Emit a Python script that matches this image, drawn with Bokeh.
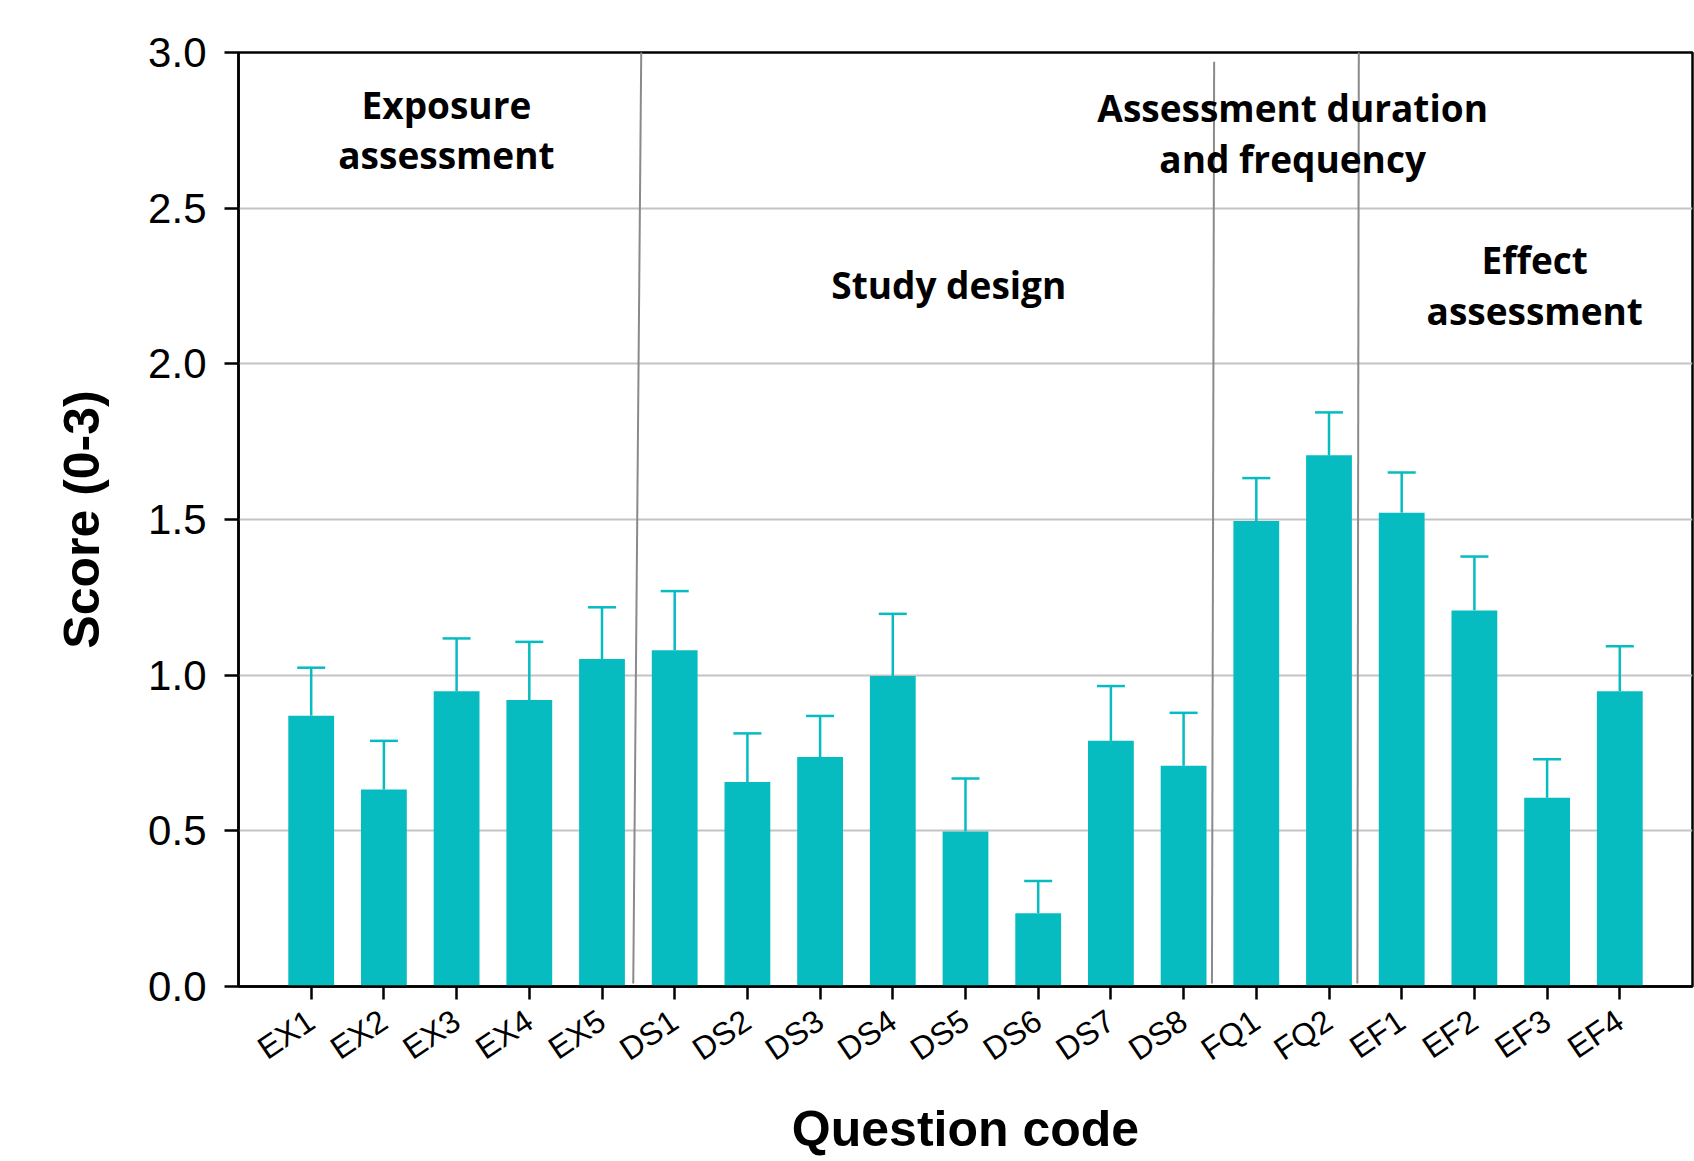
import math
from bokeh.plotting import figure
from bokeh.models import (ColumnDataSource, Range1d, FixedTicker, Whisker, TeeHead,
                          SingleIntervalTicker, PrintfTickFormatter)
from bokeh.core.properties import value
from bokeh.embed import file_html
from bokeh.resources import INLINE

# ---------------- data ----------------
codes = ["EX1", "EX2", "EX3", "EX4", "EX5",
         "DS1", "DS2", "DS3", "DS4", "DS5", "DS6", "DS7", "DS8",
         "FQ1", "FQ2",
         "EF1", "EF2", "EF3", "EF4"]
means = [0.87, 0.633, 0.948, 0.92, 1.052,
         1.08, 0.657, 0.737, 0.997, 0.498, 0.235, 0.789, 0.709,
         1.495, 1.706,
         1.522, 1.208, 0.606, 0.948]
upper = [1.024, 0.789, 1.118, 1.107, 1.218,
         1.27, 0.813, 0.869, 1.197, 0.668, 0.339, 0.965, 0.879,
         1.633, 1.844,
         1.651, 1.381, 0.73, 1.093]

group_text = [["Exposure", "assessment"],
              ["Study design"],
              ["Assessment duration", "and frequency"],
              ["Effect", "assessment"]]
group_x = [2.86, 9.77, 14.50, 17.83]
group_y = [[2.832, 2.673], [2.254], [2.822, 2.659], [2.334, 2.171]]

div_x0 = [5.54, 13.42, 15.41]
div_x1 = [5.43, 13.39, 15.39]
div_y0 = [3.01, 2.97, 3.01]
div_y1 = [0.01, 0.01, 0.01]

TEAL = "#06bcc0"

xs = list(range(1, len(codes) + 1))
src = ColumnDataSource(dict(x=xs, code=codes, mean=means, upper=upper))

p = figure(width=1694, height=1160, output_backend="svg", toolbar_location=None,
           x_range=Range1d(0, 20), y_range=Range1d(0, 3),
           min_border_left=238, min_border_right=2, min_border_top=52, min_border_bottom=172,
           background_fill_color="white", border_fill_color="white")

p.outline_line_color = "black"
p.outline_line_width = 2.5
p.xgrid.visible = False
p.ygrid.grid_line_color = "#c4c4c4"
p.ygrid.grid_line_width = 2
p.ygrid.ticker = SingleIntervalTicker(interval=0.5)

# dividers
p.segment(x0=div_x0, y0=div_y0, x1=div_x1, y1=div_y1, line_color="#8a8a8a", line_width=2)

# bars
p.vbar(x="x", top="mean", bottom=0, width=0.63, source=src, fill_color=TEAL, line_color=None)

w = Whisker(base="x", lower="mean", upper="upper", source=src, dimension="height",
            line_color=TEAL, line_width=2.5,
            lower_head=None,
            upper_head=TeeHead(size=28, line_color=TEAL, line_width=2.5))
p.add_layout(w)

# group annotations
tx, ty, tt = [], [], []
for lines, gx, gys in zip(group_text, group_x, group_y):
    for line, gy in zip(lines, gys):
        tx.append(gx); ty.append(gy); tt.append(line)
p.text(x=tx, y=ty, text=tt, text_font=value("Open Sans"), text_font_style="bold",
       text_font_size="37px", text_align="center", text_baseline="middle", text_color="black")

# axes
xa = p.xaxis[0]
xa.ticker = FixedTicker(ticks=xs)
xa.major_label_overrides = {x: c for x, c in zip(xs, codes)}
xa.major_label_orientation = math.radians(34)
xa.major_label_text_font = "Liberation Sans"
xa.major_label_text_font_size = "32px"
xa.major_label_text_color = "black"
xa.major_label_standoff = 18
xa.axis_line_color = "black"
xa.axis_line_width = 2.5
xa.major_tick_line_color = "black"
xa.major_tick_line_width = 2.5
xa.major_tick_out = 13
xa.major_tick_in = 0
xa.minor_tick_line_color = None
xa.axis_label = "Question code"
xa.axis_label_text_font = "Liberation Sans"
xa.axis_label_text_font_style = "bold"
xa.axis_label_text_font_size = "50px"
xa.axis_label_text_color = "black"
xa.axis_label_standoff = 16

ya = p.yaxis[0]
ya.ticker = SingleIntervalTicker(interval=0.5)
ya.formatter = PrintfTickFormatter(format="%.1f")
ya.major_label_text_font = "Liberation Sans"
ya.major_label_text_font_size = "42px"
ya.major_label_text_color = "black"
ya.major_label_standoff = 18
ya.axis_line_color = "black"
ya.axis_line_width = 2.5
ya.major_tick_line_color = "black"
ya.major_tick_line_width = 2.5
ya.major_tick_out = 14
ya.major_tick_in = 0
ya.minor_tick_line_color = None
ya.axis_label = "Score (0-3)"
ya.axis_label_text_font = "Liberation Sans"
ya.axis_label_text_font_style = "bold"
ya.axis_label_text_font_size = "50px"
ya.axis_label_text_color = "black"
ya.axis_label_standoff = 35

open("out.html", "w").write(file_html(p, INLINE))
